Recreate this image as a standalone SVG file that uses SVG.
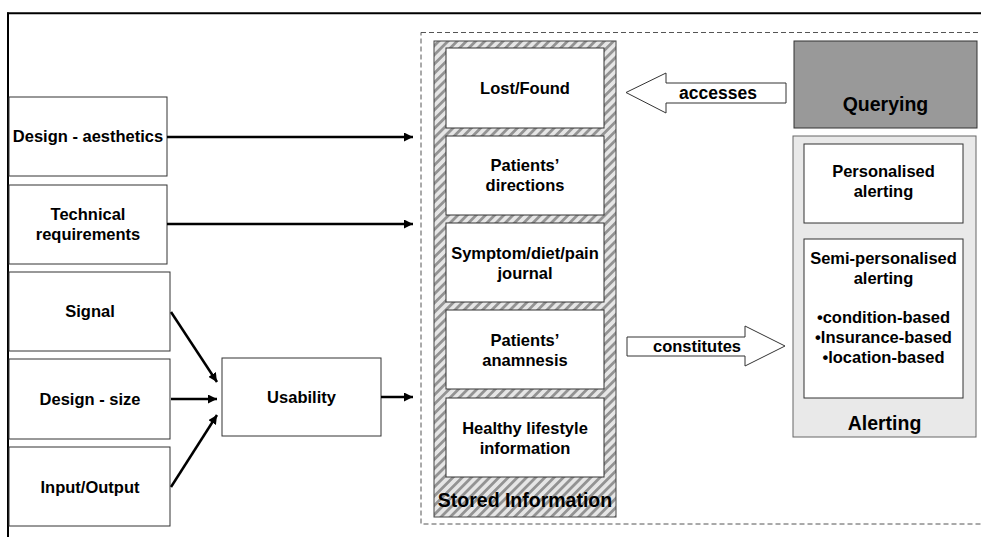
<svg xmlns="http://www.w3.org/2000/svg" width="981" height="537" viewBox="0 0 981 537">
<style>
text{font-family:"Liberation Sans",Arial,Helvetica,sans-serif;font-weight:bold;fill:#000;text-anchor:middle}
.t{font-size:16.5px}
.big{font-size:19.5px}
.box{fill:#fff;stroke:#333;stroke-width:1}
.conn{stroke:#000;stroke-width:2.5;fill:none;marker-end:url(#ah)}
.blk{fill:#fff;stroke:#333;stroke-width:1}
</style>
<defs>
<marker id="ah" markerUnits="userSpaceOnUse" markerWidth="10" markerHeight="9" refX="9" refY="4.5" orient="auto">
<path d="M0,0 L9,4.5 L0,9 z" fill="#000"/>
</marker>
<pattern id="hatch" patternUnits="userSpaceOnUse" width="6.5" height="6.5" patternTransform="rotate(45)">
<rect width="6.5" height="6.5" fill="#e6e6e6"/>
<rect width="2.8" height="6.5" fill="#939393"/>
</pattern>
</defs>
<rect width="981" height="537" fill="#fff"/>
<g id="frame">
<line x1="7" y1="13.3" x2="981" y2="13.3" stroke="#000" stroke-width="2"/>
<line x1="8" y1="12.5" x2="8" y2="537" stroke="#000" stroke-width="2"/>
<rect x="421" y="32.5" width="570" height="491.5" fill="none" stroke="#555" stroke-width="1" stroke-dasharray="5,3"/>
</g>
<g id="design-aesthetics"><rect class="box" x="9" y="97" width="158" height="79"/><text class="t" x="88" y="142">Design - aesthetics</text></g>
<g id="technical-requirements"><rect class="box" x="9" y="185" width="158" height="79"/><text class="t" x="88" y="220">Technical</text><text class="t" x="88" y="240">requirements</text></g>
<g id="signal"><rect class="box" x="9" y="272" width="161" height="79"/><text class="t" x="90" y="317">Signal</text></g>
<g id="design-size"><rect class="box" x="9" y="359" width="161" height="80"/><text class="t" x="90" y="405">Design - size</text></g>
<g id="input-output"><rect class="box" x="9" y="447" width="161" height="79"/><text class="t" x="90" y="493">Input/Output</text></g>
<g id="usability"><rect class="box" x="222" y="358" width="159" height="78"/><text class="t" x="301.5" y="403">Usability</text></g>
<g id="stored-information">
<rect x="434" y="41" width="182" height="476" fill="url(#hatch)" stroke="#444" stroke-width="1"/>
<text class="big" x="525" y="507">Stored Information</text>
</g>
<g id="lost-found"><rect class="box" x="446" y="48" width="158" height="80"/><text class="t" x="525" y="94">Lost/Found</text></g>
<g id="patients-directions"><rect class="box" x="446" y="136" width="158" height="79"/><text class="t" x="525" y="171">Patients’</text><text class="t" x="525" y="191">directions</text></g>
<g id="symptom-journal"><rect class="box" x="446" y="223" width="158" height="79"/><text class="t" x="525" y="259">Symptom/diet/pain</text><text class="t" x="525" y="279">journal</text></g>
<g id="patients-anamnesis"><rect class="box" x="446" y="310" width="158" height="79"/><text class="t" x="525" y="346">Patients’</text><text class="t" x="525" y="366">anamnesis</text></g>
<g id="healthy-lifestyle"><rect class="box" x="446" y="398" width="158" height="79"/><text class="t" x="525" y="434">Healthy lifestyle</text><text class="t" x="525" y="454">information</text></g>
<g id="querying"><rect x="794" y="41" width="183" height="87" fill="#999" stroke="#333" stroke-width="1"/><text class="big" x="885.5" y="111">Querying</text></g>
<g id="alerting">
<rect x="793" y="136" width="183" height="301" fill="#e9e9e9" stroke="#666" stroke-width="1"/>
<text class="big" x="884.5" y="430">Alerting</text>
</g>
<g id="personalised-alerting"><rect class="box" x="804" y="144" width="159" height="79"/><text class="t" x="883.5" y="177">Personalised</text><text class="t" x="883.5" y="197">alerting</text></g>
<g id="semi-personalised-alerting"><rect class="box" x="804" y="239" width="159" height="159"/>
<text class="t" x="883.5" y="264">Semi-personalised</text>
<text class="t" x="883.5" y="283.5">alerting</text>
<text class="t" x="883.5" y="323">•condition-based</text>
<text class="t" x="883.5" y="343">•Insurance-based</text>
<text class="t" x="883.5" y="362.5">•location-based</text>
</g>
<g id="connectors">
<line class="conn" x1="167" y1="137" x2="413" y2="137"/>
<line class="conn" x1="167" y1="224" x2="413" y2="224"/>
<line class="conn" x1="171" y1="312" x2="217" y2="382"/>
<line class="conn" x1="171" y1="399" x2="217" y2="399"/>
<line class="conn" x1="171" y1="487" x2="217" y2="415"/>
<line class="conn" x1="381" y1="397" x2="413" y2="397"/>
<g id="accesses"><polygon class="blk" points="626,92.5 666,73 666,83 786,83 786,103 666,103 666,113"/><text class="t" x="718" y="99" style="font-size:17.5px">accesses</text></g>
<g id="constitutes"><polygon class="blk" points="627,337 745,337 745,326 785,346 745,366 745,356 627,356"/><text class="t" x="697" y="352">constitutes</text></g>
</g>
</svg>
